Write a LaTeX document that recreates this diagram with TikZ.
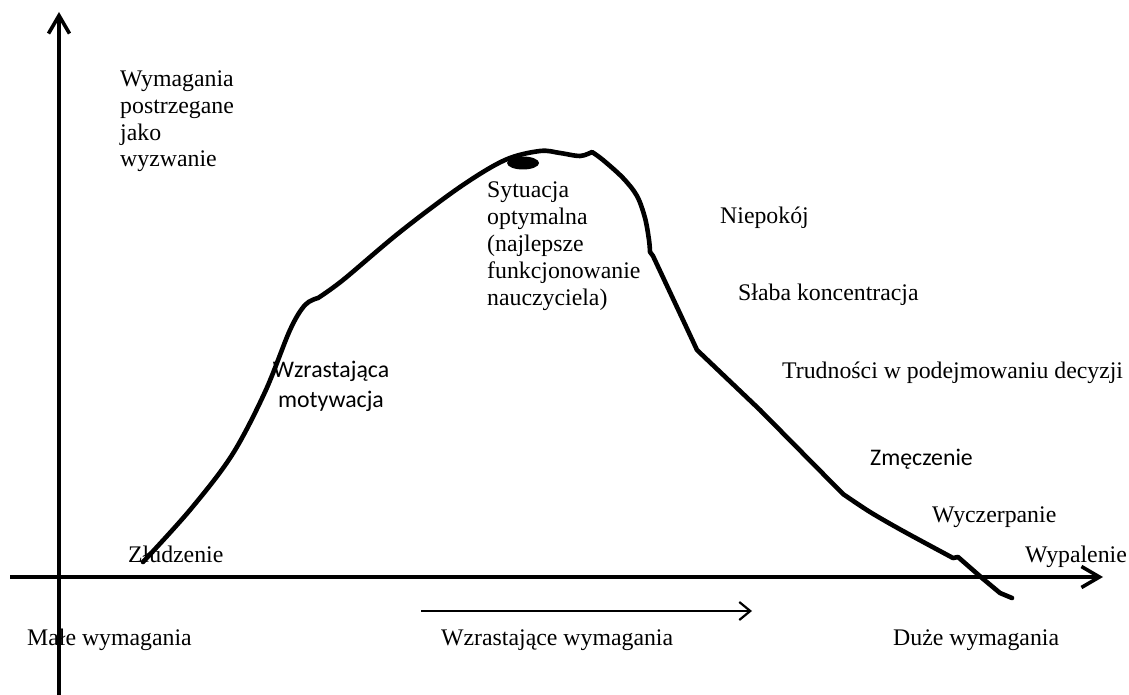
\documentclass[tikz,border=0pt]{standalone}
\usepackage{fontspec}
\setmainfont{Liberation Serif}
\newfontfamily\calibrilike{Carlito}
\usetikzlibrary{arrows.meta}

\tikzset{
  axis/.style={line width=3.6pt, -{Straight Barb[length=18pt,width=21pt]}},
  trend/.style={line width=2.2pt, -{Straight Barb[length=11pt,width=18pt]}},
  curve/.style={line width=4.6pt, line cap=round, line join=round},
  lbl/.style={inner sep=0pt, anchor=base west, font=\fontsize{23.8}{26.9}\selectfont, align=left},
  sanslbl/.style={inner sep=0pt, anchor=base, font=\calibrilike\fontsize{23.8}{30}\selectfont, align=center}
}

\begin{document}
\begin{tikzpicture}[x=1pt,y=-1pt]
  \useasboundingbox (0,0) rectangle (1129,695);

  % axes
  \coordinate (yb) at (59,695);
  \coordinate (yt) at (59,12);
  \coordinate (xl) at (10,577);
  \coordinate (xr) at (1103,577);
  \draw[axis] (yb) -- (yt);
  \draw[axis] (xl) -- (xr);

  % direction of growing demands
  \coordinate (ta) at (421,611);
  \coordinate (tb) at (752,611);
  \draw[trend] (ta) -- (tb);

  % the performance curve
  \draw[curve] plot[smooth, tension=0.55] coordinates {
      (143,562) (190,510) (232,455) (265,392) (290,330) (305,305) (318,298)}
    -- plot[smooth, tension=0.55] coordinates {
      (318,298) (343,280) (400,232) (460,187) (505,160) (540,151) (560,153) (580,156) (592,152)}
    -- plot[smooth, tension=0.55] coordinates {
      (592,152) (603,160) (623,178) (637,196) (645,218) (649,240) (650,252)}
    -- (653,256)
    -- (683,320) -- (697,350) -- (760,410) -- (843,494)
    -- plot[smooth, tension=0.5] coordinates {
      (843,494) (870,512) (903,531) (953,558)}
    -- (958,557) -- (982,578) -- (1000,593) -- (1012,598);

  % optimum point
  \fill (523,163) ellipse (16pt and 6.5pt);

  % labels (multi-line labels are placed by the baseline of their last line)
  \node[lbl] (chal) at (120,167) {Wymagania\\postrzegane\\jako\\wyzwanie};
  \node[lbl] (opt) at (487,305) {Sytuacja\\optymalna\\(najlepsze\\funkcjonowanie\\nauczyciela)};
  \node[lbl] (niep) at (720,223) {Niepokój};
  \node[lbl] (slab) at (738,300) {Słaba koncentracja};
  \node[lbl] (trud) at (782,378) {Trudności w podejmowaniu decyzji};
  \node[lbl] (wycz) at (932,522) {Wyczerpanie};
  \node[lbl] (wypa) at (1025,562) {Wypalenie};
  \node[lbl] (zlud) at (128,562) {Złudzenie};
  \node[lbl] (male) at (27,645) {Małe wymagania};
  \node[lbl] (wzw) at (441,645) {Wzrastające wymagania};
  \node[lbl] (duze) at (893,645) {Duże wymagania};
  \node[sanslbl] (motyw) at (331,407) {Wzrastająca\\motywacja};
  \node[sanslbl, anchor=base west] (zmecz) at (870,465) {Zmęczenie};
\end{tikzpicture}
\end{document}
